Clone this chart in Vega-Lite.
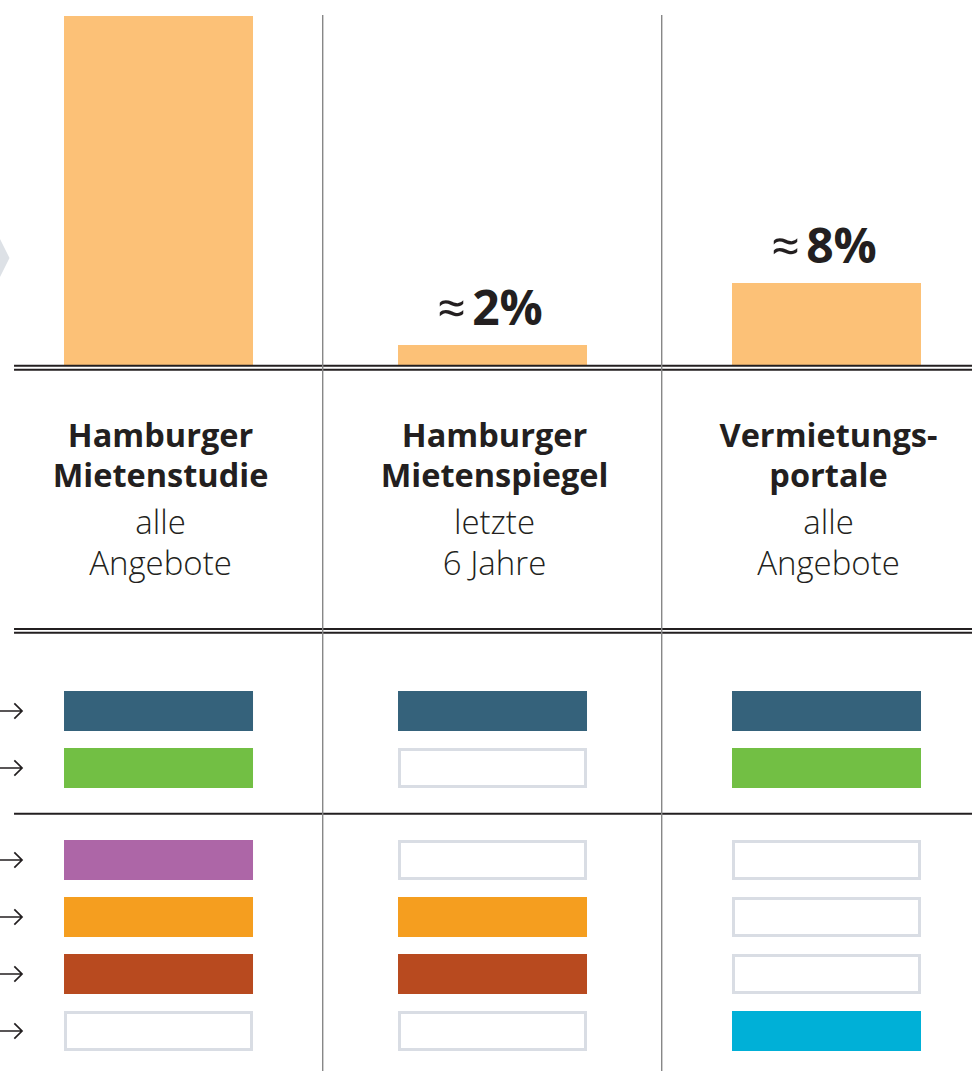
{
  "$schema": "https://vega.github.io/schema/vega-lite/v6.json",
  "padding": 0,
  "spacing": 0,
  "bounds": "flush",
  "background": "#ffffff",
  "config": {"view": {"stroke": null}, "font": "Open Sans", "concat": {"spacing": 0}},
  "datasets": {
    "quellen": [
      {"spalte": 0, "quelle": "Hamburger Mietenstudie", "balken": 100, "anteil": ""},
      {"spalte": 1, "quelle": "Hamburger Mietenspiegel", "balken": 5.73, "anteil": "2%"},
      {"spalte": 2, "quelle": "Vermietungsportale", "balken": 23.5, "anteil": "8%"}
    ],
    "beschriftung": [
      {"spalte": 0, "zeile": 1, "art": "Name", "text": "Hamburger"},
      {"spalte": 0, "zeile": 2, "art": "Name", "text": "Mietenstudie"},
      {"spalte": 0, "zeile": 3, "art": "Zusatz", "text": "alle"},
      {"spalte": 0, "zeile": 4, "art": "Zusatz", "text": "Angebote"},
      {"spalte": 1, "zeile": 1, "art": "Name", "text": "Hamburger"},
      {"spalte": 1, "zeile": 2, "art": "Name", "text": "Mietenspiegel"},
      {"spalte": 1, "zeile": 3, "art": "Zusatz", "text": "letzte"},
      {"spalte": 1, "zeile": 4, "art": "Zusatz", "text": "6 Jahre"},
      {"spalte": 2, "zeile": 1, "art": "Name", "text": "Vermietungs-"},
      {"spalte": 2, "zeile": 2, "art": "Name", "text": "portale"},
      {"spalte": 2, "zeile": 3, "art": "Zusatz", "text": "alle"},
      {"spalte": 2, "zeile": 4, "art": "Zusatz", "text": "Angebote"}
    ],
    "merkmale": [
      {"merkmal": "Merkmal 1", "zeile": 1},
      {"merkmal": "Merkmal 2", "zeile": 2},
      {"merkmal": "Merkmal 3", "zeile": 3},
      {"merkmal": "Merkmal 4", "zeile": 4},
      {"merkmal": "Merkmal 5", "zeile": 5},
      {"merkmal": "Merkmal 6", "zeile": 6}
    ],
    "abdeckung": [
      {"spalte": 0, "merkmal": "Merkmal 1", "zeile": 1, "vorhanden": true},
      {"spalte": 0, "merkmal": "Merkmal 2", "zeile": 2, "vorhanden": true},
      {"spalte": 0, "merkmal": "Merkmal 3", "zeile": 3, "vorhanden": true},
      {"spalte": 0, "merkmal": "Merkmal 4", "zeile": 4, "vorhanden": true},
      {"spalte": 0, "merkmal": "Merkmal 5", "zeile": 5, "vorhanden": true},
      {"spalte": 0, "merkmal": "Merkmal 6", "zeile": 6, "vorhanden": false},
      {"spalte": 1, "merkmal": "Merkmal 1", "zeile": 1, "vorhanden": true},
      {"spalte": 1, "merkmal": "Merkmal 2", "zeile": 2, "vorhanden": false},
      {"spalte": 1, "merkmal": "Merkmal 3", "zeile": 3, "vorhanden": false},
      {"spalte": 1, "merkmal": "Merkmal 4", "zeile": 4, "vorhanden": true},
      {"spalte": 1, "merkmal": "Merkmal 5", "zeile": 5, "vorhanden": true},
      {"spalte": 1, "merkmal": "Merkmal 6", "zeile": 6, "vorhanden": false},
      {"spalte": 2, "merkmal": "Merkmal 1", "zeile": 1, "vorhanden": true},
      {"spalte": 2, "merkmal": "Merkmal 2", "zeile": 2, "vorhanden": true},
      {"spalte": 2, "merkmal": "Merkmal 3", "zeile": 3, "vorhanden": false},
      {"spalte": 2, "merkmal": "Merkmal 4", "zeile": 4, "vorhanden": false},
      {"spalte": 2, "merkmal": "Merkmal 5", "zeile": 5, "vorhanden": false},
      {"spalte": 2, "merkmal": "Merkmal 6", "zeile": 6, "vorhanden": true}
    ]
  },
  "vconcat": [
    {
      "width": 977,
      "height": 372,
      "layer": [
        {
          "data": {"name": "quellen"},
          "mark": {"type": "bar", "width": 189, "color": "#fcc177"},
          "encoding": {
            "x": {"field": "spalte", "type": "quantitative", "scale": {"domain": [-0.4746, 2.4506], "nice": false, "zero": false, "padding": 0}, "axis": null},
            "y": {"field": "balken", "type": "quantitative", "scale": {"domain": [-2.006, 104.585], "nice": false, "zero": false, "padding": 0}, "axis": null},
            "y2": {"datum": 0}
          }
        },
        {
          "data": {"name": "quellen"},
          "transform": [{"filter": "datum.anteil != ''"}],
          "mark": {"type": "text", "text": "≈", "fontSize": 50, "fontWeight": "normal", "color": "#231f20", "align": "center", "baseline": "alphabetic", "dx": -41, "dy": -19},
          "encoding": {
            "x": {"field": "spalte", "type": "quantitative", "axis": null},
            "y": {"field": "balken", "type": "quantitative", "axis": null}
          }
        },
        {
          "data": {"name": "quellen"},
          "transform": [{"filter": "datum.anteil != ''"}],
          "mark": {"type": "text", "fontSize": 48, "fontWeight": "bold", "letterSpacing": 5, "color": "#231f20", "align": "center", "baseline": "alphabetic", "dx": 15, "dy": -20},
          "encoding": {
            "x": {"field": "spalte", "type": "quantitative", "axis": null},
            "y": {"field": "balken", "type": "quantitative", "axis": null},
            "text": {"field": "anteil", "type": "nominal"}
          }
        },
        {
          "data": {"values": [{}]},
          "mark": {"type": "rule", "color": "#231f20", "strokeWidth": 2},
          "encoding": {
            "x": {"datum": -0.4326, "type": "quantitative", "axis": null},
            "x2": {"datum": 2.4356},
            "y": {"datum": -0.2006, "type": "quantitative", "axis": null}
          }
        },
        {
          "data": {"values": [{}]},
          "mark": {"type": "rule", "color": "#231f20", "strokeWidth": 2},
          "encoding": {
            "x": {"datum": -0.4326, "type": "quantitative", "axis": null},
            "x2": {"datum": 2.4356},
            "y": {"datum": -1.3467, "type": "quantitative", "axis": null}
          }
        },
        {
          "data": {"values": [{}]},
          "mark": {"type": "rule", "color": "#878787", "strokeWidth": 1.4},
          "encoding": {
            "x": {"datum": 0.4916, "type": "quantitative", "axis": null},
            "y": {"datum": 100.287, "type": "quantitative", "axis": null},
            "y2": {"datum": -2.006}
          }
        },
        {
          "data": {"values": [{}]},
          "mark": {"type": "rule", "color": "#878787", "strokeWidth": 1.4},
          "encoding": {
            "x": {"datum": 1.5066, "type": "quantitative", "axis": null},
            "y": {"datum": 100.287, "type": "quantitative", "axis": null},
            "y2": {"datum": -2.006}
          }
        },
        {
          "data": {"values": [{}]},
          "mark": {"type": "point", "shape": "M-1,-1L-0.5,0L-1,1Z", "size": 1521, "filled": true, "color": "#dde1e6", "opacity": 1, "clip": true},
          "encoding": {
            "x": {"datum": -0.4169, "type": "quantitative", "axis": null},
            "y": {"datum": 30.66, "type": "quantitative", "axis": null}
          }
        }
      ]
    },
    {
      "width": 977,
      "height": 264,
      "layer": [
        {
          "data": {"name": "beschriftung"},
          "transform": [{"filter": "datum.art == 'Name'"}],
          "mark": {"type": "text", "fontSize": 32.5, "fontWeight": "bold", "color": "#231f20", "align": "center", "baseline": "alphabetic", "dx": 2, "dy": -0.5},
          "encoding": {
            "x": {"field": "spalte", "type": "quantitative", "scale": {"domain": [-0.4746, 2.4506], "nice": false, "zero": false, "padding": 0}, "axis": null},
            "y": {"field": "zeile", "type": "quantitative", "scale": {"domain": [-0.8293, 5.6098], "reverse": true, "nice": false, "zero": false, "padding": 0}, "axis": null},
            "text": {"field": "text", "type": "nominal"}
          }
        },
        {
          "data": {"name": "beschriftung"},
          "transform": [{"filter": "datum.art == 'Zusatz'"}],
          "mark": {"type": "text", "fontSize": 33, "fontWeight": 300, "color": "#231f20", "align": "center", "baseline": "alphabetic", "dx": 2, "dy": 5},
          "encoding": {
            "x": {"field": "spalte", "type": "quantitative", "axis": null},
            "y": {"field": "zeile", "type": "quantitative", "axis": null},
            "text": {"field": "text", "type": "nominal"}
          }
        },
        {
          "data": {"values": [{}]},
          "mark": {"type": "rule", "color": "#231f20", "strokeWidth": 2},
          "encoding": {
            "x": {"datum": -0.4326, "type": "quantitative", "axis": null},
            "x2": {"datum": 2.4356},
            "y": {"datum": 5.439, "type": "quantitative", "axis": null}
          }
        },
        {
          "data": {"values": [{}]},
          "mark": {"type": "rule", "color": "#231f20", "strokeWidth": 2},
          "encoding": {
            "x": {"datum": -0.4326, "type": "quantitative", "axis": null},
            "x2": {"datum": 2.4356},
            "y": {"datum": 5.5317, "type": "quantitative", "axis": null}
          }
        },
        {
          "data": {"values": [{}]},
          "mark": {"type": "rule", "color": "#878787", "strokeWidth": 1.4},
          "encoding": {
            "x": {"datum": 0.4916, "type": "quantitative", "axis": null},
            "y": {"datum": -0.8293, "type": "quantitative", "axis": null},
            "y2": {"datum": 5.6098}
          }
        },
        {
          "data": {"values": [{}]},
          "mark": {"type": "rule", "color": "#878787", "strokeWidth": 1.4},
          "encoding": {
            "x": {"datum": 1.5066, "type": "quantitative", "axis": null},
            "y": {"datum": -0.8293, "type": "quantitative", "axis": null},
            "y2": {"datum": 5.6098}
          }
        }
      ]
    },
    {
      "width": 977,
      "height": 180,
      "layer": [
        {
          "data": {"name": "abdeckung"},
          "transform": [{"filter": "datum.zeile <= 2 && datum.vorhanden"}],
          "mark": {"type": "point", "shape": "M-1,-0.2116H1V0.2116H-1Z", "size": 35721, "filled": true, "opacity": 1, "strokeWidth": 0},
          "encoding": {
            "x": {"field": "spalte", "type": "quantitative", "scale": {"domain": [-0.4746, 2.4506], "nice": false, "zero": false, "padding": 0}, "axis": null},
            "y": {"field": "zeile", "type": "quantitative", "scale": {"domain": [-0.3158, 2.8421], "reverse": true, "nice": false, "zero": false, "padding": 0}, "axis": null},
            "fill": {"field": "merkmal", "type": "nominal", "scale": {"domain": ["Merkmal 1", "Merkmal 2", "Merkmal 3", "Merkmal 4", "Merkmal 5", "Merkmal 6"], "range": ["#35627b", "#72bf44", "#ad66a7", "#f59e1f", "#b84a1f", "#00b0d7"]}, "legend": null}
          }
        },
        {
          "data": {"name": "abdeckung"},
          "transform": [{"filter": "datum.zeile <= 2 && !datum.vorhanden"}],
          "mark": {"type": "point", "shape": "M-0.9841,-0.1958H0.9841V0.1958H-0.9841Z", "size": 35721, "filled": false, "fill": "#ffffff", "stroke": "#d9dde4", "strokeWidth": 3, "opacity": 1},
          "encoding": {
            "x": {"field": "spalte", "type": "quantitative", "axis": null},
            "y": {"field": "zeile", "type": "quantitative", "axis": null}
          }
        },
        {
          "data": {"name": "merkmale"},
          "transform": [{"filter": "datum.zeile <= 2"}],
          "mark": {"type": "point", "shape": "M-1.2,0H0.95M0.3,-0.7L1,0L0.3,0.7", "size": 484, "filled": false, "stroke": "#231f20", "strokeWidth": 1.7, "opacity": 1, "clip": true},
          "encoding": {
            "x": {"datum": -0.4416, "type": "quantitative", "axis": null},
            "y": {"field": "zeile", "type": "quantitative", "axis": null}
          }
        },
        {
          "data": {"values": [{}]},
          "mark": {"type": "rule", "color": "#231f20", "strokeWidth": 2},
          "encoding": {
            "x": {"datum": -0.4326, "type": "quantitative", "axis": null},
            "x2": {"datum": 2.4356},
            "y": {"datum": 2.8018, "type": "quantitative", "axis": null}
          }
        },
        {
          "data": {"values": [{}]},
          "mark": {"type": "rule", "color": "#878787", "strokeWidth": 1.4},
          "encoding": {
            "x": {"datum": 0.4916, "type": "quantitative", "axis": null},
            "y": {"datum": -0.3158, "type": "quantitative", "axis": null},
            "y2": {"datum": 2.8421}
          }
        },
        {
          "data": {"values": [{}]},
          "mark": {"type": "rule", "color": "#878787", "strokeWidth": 1.4},
          "encoding": {
            "x": {"datum": 1.5066, "type": "quantitative", "axis": null},
            "y": {"datum": -0.3158, "type": "quantitative", "axis": null},
            "y2": {"datum": 2.8421}
          }
        }
      ]
    },
    {
      "width": 977,
      "height": 255,
      "layer": [
        {
          "data": {"name": "abdeckung"},
          "transform": [{"filter": "datum.zeile >= 3 && datum.vorhanden"}],
          "mark": {"type": "point", "shape": "M-1,-0.2116H1V0.2116H-1Z", "size": 35721, "filled": true, "opacity": 1, "strokeWidth": 0},
          "encoding": {
            "x": {"field": "spalte", "type": "quantitative", "scale": {"domain": [-0.4746, 2.4506], "nice": false, "zero": false, "padding": 0}, "axis": null},
            "y": {"field": "zeile", "type": "quantitative", "scale": {"domain": [2.2281, 6.7018], "reverse": true, "nice": false, "zero": false, "padding": 0}, "axis": null},
            "fill": {"field": "merkmal", "type": "nominal", "scale": {"domain": ["Merkmal 1", "Merkmal 2", "Merkmal 3", "Merkmal 4", "Merkmal 5", "Merkmal 6"], "range": ["#35627b", "#72bf44", "#ad66a7", "#f59e1f", "#b84a1f", "#00b0d7"]}, "legend": null}
          }
        },
        {
          "data": {"name": "abdeckung"},
          "transform": [{"filter": "datum.zeile >= 3 && !datum.vorhanden"}],
          "mark": {"type": "point", "shape": "M-0.9841,-0.1958H0.9841V0.1958H-0.9841Z", "size": 35721, "filled": false, "fill": "#ffffff", "stroke": "#d9dde4", "strokeWidth": 3, "opacity": 1},
          "encoding": {
            "x": {"field": "spalte", "type": "quantitative", "axis": null},
            "y": {"field": "zeile", "type": "quantitative", "axis": null}
          }
        },
        {
          "data": {"name": "merkmale"},
          "transform": [{"filter": "datum.zeile >= 3"}],
          "mark": {"type": "point", "shape": "M-1.2,0H0.95M0.3,-0.7L1,0L0.3,0.7", "size": 484, "filled": false, "stroke": "#231f20", "strokeWidth": 1.7, "opacity": 1, "clip": true},
          "encoding": {
            "x": {"datum": -0.4416, "type": "quantitative", "axis": null},
            "y": {"field": "zeile", "type": "quantitative", "axis": null}
          }
        },
        {
          "data": {"values": [{}]},
          "mark": {"type": "rule", "color": "#878787", "strokeWidth": 1.4},
          "encoding": {
            "x": {"datum": 0.4916, "type": "quantitative", "axis": null},
            "y": {"datum": 2.2281, "type": "quantitative", "axis": null},
            "y2": {"datum": 6.7018}
          }
        },
        {
          "data": {"values": [{}]},
          "mark": {"type": "rule", "color": "#878787", "strokeWidth": 1.4},
          "encoding": {
            "x": {"datum": 1.5066, "type": "quantitative", "axis": null},
            "y": {"datum": 2.2281, "type": "quantitative", "axis": null},
            "y2": {"datum": 6.7018}
          }
        }
      ]
    }
  ]
}
